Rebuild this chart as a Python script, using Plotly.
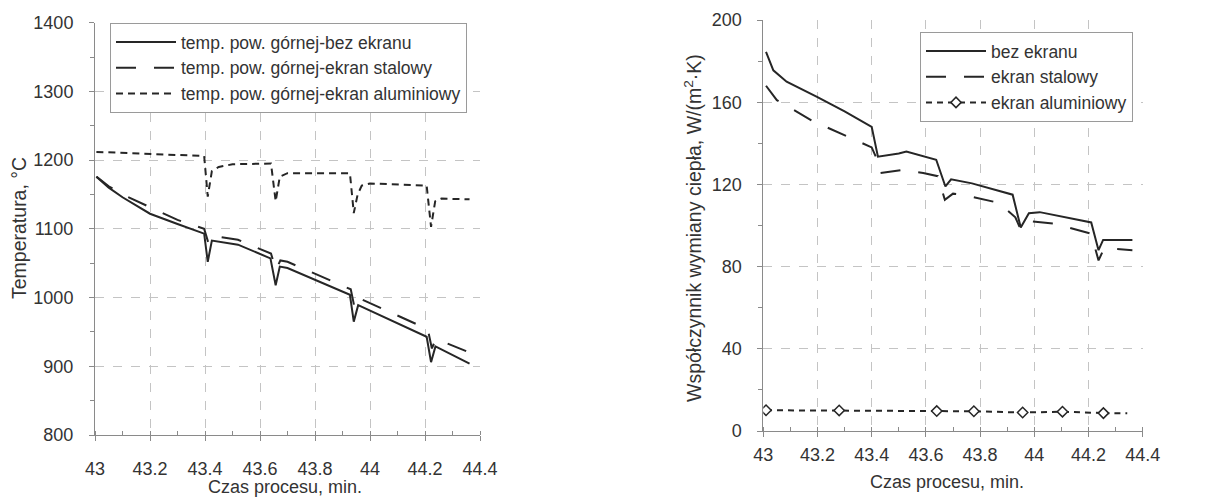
import plotly.graph_objects as go

# ---------------- data: left chart (temperature) ----------------
t_bez = [43.005, 43.05, 43.10, 43.2, 43.3, 43.397, 43.41, 43.425, 43.52, 43.638, 43.657, 43.672, 43.70,
         43.927, 43.941, 43.957, 44.206, 44.222, 44.238, 44.362]
T_bez = [1176, 1160, 1146, 1122, 1107, 1093, 1052, 1083, 1077, 1057, 1018, 1045, 1043,
         1004, 965, 989, 943, 906, 929, 904]

t_stal = [43.005, 43.05, 43.10, 43.2, 43.3, 43.397, 43.412, 43.428, 43.52, 43.64, 43.658, 43.674, 43.70,
          43.93, 43.944, 43.96, 44.21, 44.225, 44.24, 44.362]
T_stal = [1176, 1162, 1150, 1131, 1113, 1100, 1080, 1090, 1084, 1064, 1040, 1054, 1052,
          1012, 985, 999, 954, 926, 940, 920]

t_al = [43.005, 43.2, 43.397, 43.41, 43.425, 43.45, 43.5, 43.64, 43.657, 43.672, 43.70, 43.927, 43.941,
        43.955, 43.97, 44.0, 44.206, 44.222, 44.237, 44.26, 44.362]
T_al = [1212, 1209, 1206, 1147, 1184, 1190, 1194, 1195, 1140, 1176, 1181, 1181, 1123,
        1150, 1163, 1166, 1163, 1103, 1140, 1144, 1143]

# ---------------- data: right chart (heat transfer coefficient) ----------------
t_h_bez = [43.01, 43.037, 43.086, 43.2, 43.3, 43.4, 43.423, 43.5, 43.528, 43.638, 43.672, 43.693, 43.77,
           43.92, 43.95, 43.98, 44.02, 44.21, 44.237, 44.254, 44.362]
h_bez = [184.5, 175.5, 170, 162.5, 155.5, 148, 133.5, 135, 136, 132, 119, 122.5, 120.5,
         115, 99, 106, 106.5, 101.5, 88, 93, 93]

t_h_stal = [43.01, 43.05, 43.18, 43.38, 43.40, 43.42, 43.43, 43.515, 43.59, 43.644, 43.67, 43.70, 43.736,
            43.87, 43.93, 43.95, 43.99, 44.07, 44.21, 44.237, 44.258, 44.362]
h_stal = [168, 161, 151, 139, 138, 132, 125.5, 127, 125.5, 124, 112.5, 115.5, 115,
          111, 104, 98, 102, 101, 96, 83, 89, 88]

# marked points of the aluminium-screen series, then the unmarked tail of the line
t_h_al = [43.01, 43.28, 43.64, 43.777, 43.957, 44.104, 44.255]
h_al = [10.1, 10.0, 9.7, 9.6, 9.0, 9.4, 8.7]
t_h_al_tail = [44.255, 44.343]
h_al_tail = [8.7, 8.6]

# ---------------- tick labels / texts ----------------
x_ticks = [43, 43.2, 43.4, 43.6, 43.8, 44, 44.2, 44.4]
x_ticktext = ["43", "43.2", "43.4", "43.6", "43.8", "44", "44.2", "44.4"]
yT_ticks = [800, 900, 1000, 1100, 1200, 1300, 1400]
yH_ticks = [0, 40, 80, 120, 160, 200]

names_left = ["temp. pow. górnej-bez ekranu", "temp. pow. górnej-ekran stalowy",
              "temp. pow. górnej-ekran aluminiowy"]
names_right = ["bez ekranu", "ekran stalowy", "ekran aluminiowy"]
x_title = "Czas procesu, min."
yT_title = "Temperatura, °C"
yH_title = "Współczynnik wymiany ciepła, W/(m<sup>2</sup>·K)"

# ---------------- styles ----------------
INK = "#262626"
AX = "#8a8a8a"
GRID = "#c4c4c4"
TXT = "#333333"
FONT = "Liberation Sans, Arial, sans-serif"
OFF = 8                       # page body margin of the browser
W, H = 1218 - OFF, 497 - OFF  # figure size so the page fits the window


def px(x):   # reference pixel x -> paper fraction
    return (x - OFF) / W


def py(y):   # reference pixel y (from top) -> paper fraction
    return 1 - (y - OFF) / H


fig = go.Figure()

fig.add_trace(go.Scatter(x=t_bez, y=T_bez, mode="lines", name=names_left[0],
                         line=dict(color=INK, width=2), xaxis="x", yaxis="y", legend="legend"))
fig.add_trace(go.Scatter(x=t_stal, y=T_stal, mode="lines", name=names_left[1],
                         line=dict(color=INK, width=2, dash="20px,18px"), xaxis="x", yaxis="y",
                         legend="legend"))
fig.add_trace(go.Scatter(x=t_al, y=T_al, mode="lines", name=names_left[2],
                         line=dict(color=INK, width=2, dash="7px,5px"), xaxis="x", yaxis="y",
                         legend="legend"))

fig.add_trace(go.Scatter(x=t_h_bez, y=h_bez, mode="lines", name=names_right[0],
                         line=dict(color=INK, width=2), xaxis="x2", yaxis="y2", legend="legend2"))
fig.add_trace(go.Scatter(x=t_h_stal, y=h_stal, mode="lines", name=names_right[1],
                         line=dict(color=INK, width=2, dash="20px,18px"), xaxis="x2", yaxis="y2",
                         legend="legend2"))
fig.add_trace(go.Scatter(x=t_h_al_tail, y=h_al_tail, mode="lines", showlegend=False,
                         line=dict(color=INK, width=2, dash="6px,5px"), xaxis="x2", yaxis="y2"))
fig.add_trace(go.Scatter(x=t_h_al, y=h_al, mode="lines+markers", name=names_right[2],
                         line=dict(color=INK, width=2, dash="6px,5px"),
                         marker=dict(symbol="diamond", size=8,
                                     color="white", line=dict(color=INK, width=1.5)),
                         xaxis="x2", yaxis="y2", legend="legend2"))


def xaxis(domain, anchor, standoff_lbl):
    return dict(domain=domain, anchor=anchor, range=[43, 44.4], automargin=False,
                tickvals=x_ticks, ticktext=x_ticktext,
                showline=True, linecolor=AX, linewidth=1,
                ticks="outside", ticklen=5, tickcolor=AX,
                showgrid=True, gridcolor=GRID, griddash="dash", gridwidth=1,
                zeroline=False,
                minor=dict(dtick=0.1, tick0=43, ticks="inside", ticklen=4, tickcolor=AX, showgrid=False),
                tickfont=dict(family=FONT, size=18, color=TXT),
                ticklabelstandoff=standoff_lbl)


def yaxis(domain, anchor, rng, vals, minor_dtick, standoff_lbl):
    return dict(domain=domain, anchor=anchor, range=rng, tickvals=vals, automargin=False,
                showline=True, linecolor=AX, linewidth=1,
                ticks="outside", ticklen=5, tickcolor=AX,
                showgrid=True, gridcolor=GRID, griddash="dash", gridwidth=1,
                zeroline=False,
                minor=dict(dtick=minor_dtick, tick0=rng[0], ticks="outside", ticklen=4, tickcolor=AX,
                           showgrid=False),
                tickfont=dict(family=FONT, size=18, color=TXT),
                ticklabelstandoff=standoff_lbl)


def title_ann(text, x, y, angle, size):
    return dict(text=text, x=px(x), y=py(y), xref="paper", yref="paper",
                xanchor="center", yanchor="middle", showarrow=False, textangle=angle,
                font=dict(family=FONT, size=size, color=TXT))


fig.update_layout(
    width=W, height=H,
    margin=dict(l=0, r=0, t=0, b=0),
    paper_bgcolor="white", plot_bgcolor="white",
    font=dict(family=FONT, color=TXT),
    xaxis=xaxis([px(95), px(480)], "y", 12),
    yaxis=yaxis([py(435), py(22.7)], "x", [800, 1400], yT_ticks, 50, 12),
    xaxis2=xaxis([px(763.3), px(1142.7)], "y2", 2),
    yaxis2=yaxis([py(431), py(20)], "x2", [0, 200], yH_ticks, 20, 12),
    legend=dict(x=px(110), y=py(23), xanchor="left", yanchor="top",
                bgcolor="white", bordercolor="#9a9a9a", borderwidth=1,
                font=dict(family=FONT, size=17.5, color=TXT), itemwidth=60,
                tracegroupgap=0),
    legend2=dict(x=px(920), y=py(32), xanchor="left", yanchor="top",
                 bgcolor="white", bordercolor="#9a9a9a", borderwidth=1,
                 font=dict(family=FONT, size=17.5, color=TXT), itemwidth=60,
                 tracegroupgap=0),
    annotations=[
        title_ann(x_title, 285, 487, 0, 18),
        title_ann(yT_title, 19, 228, -90, 19.5),
        title_ann(x_title, 947, 482, 0, 18),
        title_ann(yH_title, 693, 228, -90, 19.5),
    ],
)

fig.write_html("out.html")
